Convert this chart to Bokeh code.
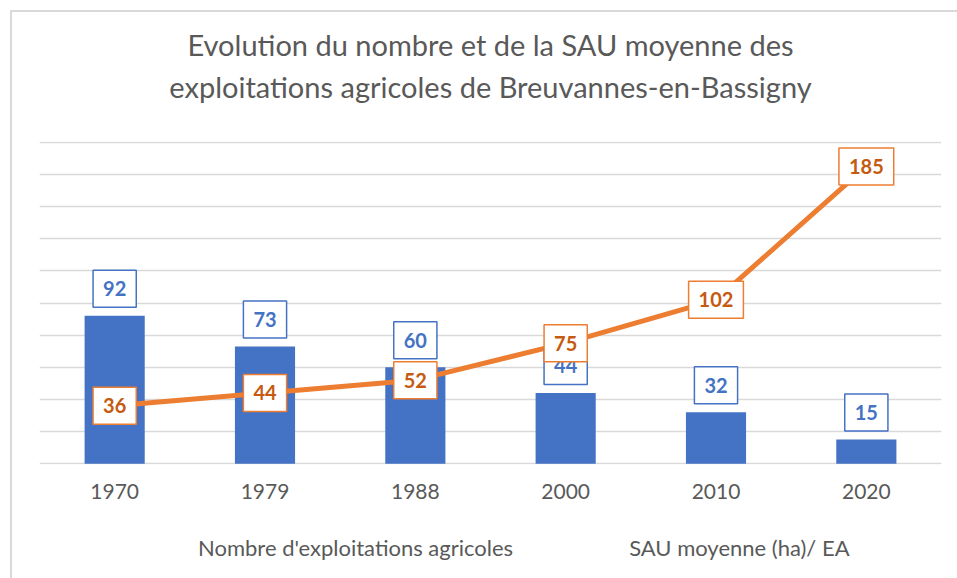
from bokeh.plotting import figure
from bokeh.layouts import column
from bokeh.models import (Range1d, SingleIntervalTicker, FixedTicker, Label, Legend, LegendItem,
                          Title, CDSView, IndexFilter)
from bokeh.embed import file_html
from bokeh.resources import INLINE

years = ["1970", "1979", "1988", "2000", "2010", "2020"]
nb_exploitations = [92, 73, 60, 44, 32, 15]
sau_moyenne = [36, 44, 52, 75, 102, 185]
title_lines = ["Evolution du nombre et de la SAU moyenne des",
               "exploitations agricoles de Breuvannes-en-Bassigny"]
legend_labels = ["Nombre d'exploitations agricoles", "SAU moyenne (ha)/ EA"]

BLUE = "#4472C4"
ORANGE = "#ED7D31"
ORANGE_TXT = "#C55A11"
GRAY_TXT = "#595959"
GRID = "#d9d9d9"
FONT = "Lato"

# category slots: one unit per year, centred at i + 0.5
xpos = [i + 0.5 for i in range(len(years))]

p = figure(x_range=Range1d(0, len(years)), y_range=Range1d(-0.5, 200.5),
           width=945, height=508, output_backend="svg", toolbar_location=None,
           title=None, min_border_left=27, min_border_right=16,
           min_border_top=129, min_border_bottom=56)
p.outline_line_color = None

p.yaxis.visible = False
p.ygrid.ticker = SingleIntervalTicker(interval=20)
p.ygrid.grid_line_color = GRID
p.ygrid.grid_line_width = 1.3
p.xgrid.grid_line_color = None

p.xaxis.ticker = FixedTicker(ticks=xpos)
p.xaxis.major_label_overrides = {x: y for x, y in zip(xpos, years)}
p.xaxis.axis_line_color = None
p.xaxis.major_tick_line_color = None
p.xaxis.minor_tick_line_color = None
p.xaxis.major_label_text_font = FONT
p.xaxis.major_label_text_font_size = "21px"
p.xaxis.major_label_text_color = GRAY_TXT
p.xaxis.major_label_standoff = 13

# spacer between the plot frame and the two title lines
p.add_layout(Title(text=" ", text_font_size="1px", standoff=32), "above")
for line in reversed(title_lines):
    p.add_layout(Title(text=line, align="center", text_font=FONT, text_font_size="29px",
                       text_font_style="normal", text_color=GRAY_TXT, standoff=5), "above")

bars = p.vbar(x=xpos, top=nb_exploitations, width=0.4, fill_color=BLUE, line_color=None)
ln = p.line(x=xpos, y=sau_moyenne, line_color=ORANGE, line_width=5)
mk = p.scatter(x=xpos, y=sau_moyenne, size=10, fill_color=ORANGE, line_color=ORANGE)

for x, v in zip(xpos, nb_exploitations):
    p.add_layout(Label(x=x, y=v, text=str(v), y_offset=27, text_align="center",
                       text_baseline="middle", text_font=FONT, text_font_style="bold",
                       text_font_size="20px", text_color=BLUE,
                       background_fill_color="white", border_line_color=BLUE,
                       border_line_width=1.5, padding=(10, 11)))
for x, v in zip(xpos, sau_moyenne):
    p.add_layout(Label(x=x, y=v, text=str(v), text_align="center",
                       text_baseline="middle", text_font=FONT, text_font_style="bold",
                       text_font_size="20px", text_color=ORANGE_TXT,
                       background_fill_color="white", border_line_color=ORANGE,
                       border_line_width=1.5, padding=(10, 11)))

# legend strip below the chart; its renderers hold the same series but a view
# that selects no rows, so only their legend glyphs are drawn
q = figure(x_range=Range1d(len(years), 2 * len(years)), y_range=Range1d(0, 200),
           width=945, height=58, output_backend="svg", toolbar_location=None, title=None,
           x_axis_type=None, y_axis_type=None,
           min_border_left=0, min_border_right=0, min_border_top=0, min_border_bottom=0)
q.outline_line_color = None
q.grid.visible = False
lg_bar = q.vbar(x=xpos, top=nb_exploitations, width=0.4, fill_color=BLUE, line_color=None,
                view=CDSView(filter=IndexFilter(indices=[])))
lg_ln = q.line(x=xpos, y=sau_moyenne, line_color=ORANGE, line_width=5,
               view=CDSView(filter=IndexFilter(indices=[])))
lg_mk = q.scatter(x=xpos, y=sau_moyenne, size=13, fill_color=ORANGE, line_color=ORANGE,
                  view=CDSView(filter=IndexFilter(indices=[])))

legend = Legend(items=[LegendItem(label=legend_labels[0], renderers=[lg_bar]),
                       LegendItem(label=legend_labels[1], renderers=[lg_ln, lg_mk])],
                orientation="horizontal", location=(94, 17))
legend.border_line_color = None
legend.background_fill_alpha = 0
legend.label_text_font = FONT
legend.label_text_font_size = "22px"
legend.label_text_color = GRAY_TXT
legend.label_height = 26
legend.glyph_width = 60
legend.glyph_height = 15
legend.label_standoff = 5
legend.spacing = 51
legend.margin = 0
legend.padding = 0
q.add_layout(legend, "center")

layout = column(p, q, styles={"margin-left": "10px", "margin-top": "10px",
                              "border-left": "2px solid #d9d9d9",
                              "border-top": "2px solid #d9d9d9"})

open("out.html", "w").write(file_html(layout, INLINE))
